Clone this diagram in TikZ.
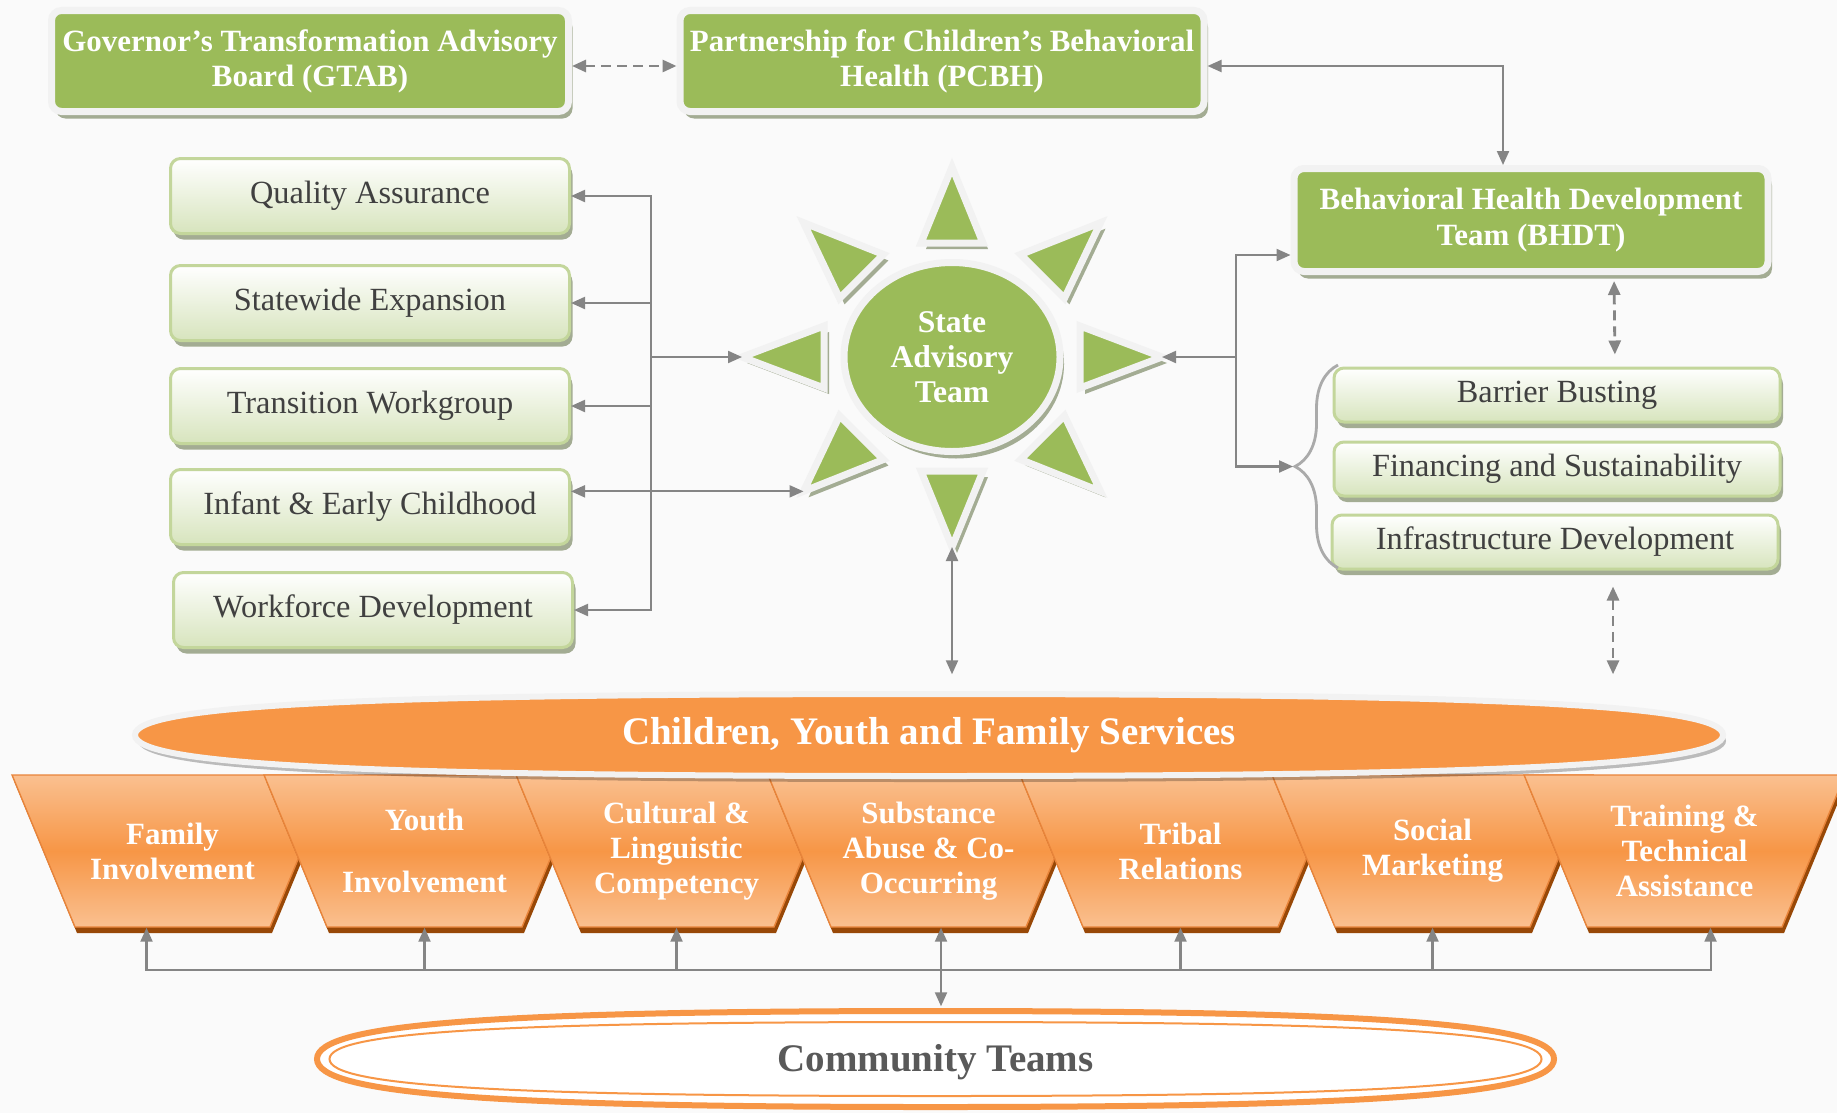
\documentclass[tikz,border=0pt]{standalone}
\usepackage{fontspec}
\setmainfont{Liberation Serif}
\usetikzlibrary{arrows.meta,shapes.geometric,shadows,calc,decorations.pathreplacing}

\definecolor{sgreen}{HTML}{9BBB59}
\definecolor{sedge}{HTML}{F2F2F2}
\definecolor{sshadow}{HTML}{A3AC93}
\definecolor{lgfill}{HTML}{D7E4BD}
\definecolor{lgedge}{HTML}{C3D69B}
\definecolor{sorange}{HTML}{F79646}
\definecolor{olight}{HTML}{FAC090}
\definecolor{oedge}{HTML}{E8843A}
\definecolor{obrown}{HTML}{984807}
\definecolor{linegray}{HTML}{858585}
\definecolor{textgray}{HTML}{404040}
\definecolor{ctgray}{HTML}{595959}

\newcommand{\traptext}[1]{\parbox[c][1.52cm][c]{1.95cm}{\centering #1}}

\tikzset{
	greenbox/.style={draw=sedge, line width=0.07cm, fill=sgreen, rounded corners=0.1cm, inner sep=0pt,
		text=white, align=center, font=\fontsize{8.8}{10}\selectfont\bfseries,
		drop shadow={shadow xshift=0.04cm, shadow yshift=-0.07cm, fill=sshadow, opacity=1}},
	lightbox/.style={draw=lgedge, line width=0.03cm, top color=white, bottom color=lgfill, rounded corners=0.1cm, inner sep=0pt,
		text=textgray, font=\fontsize{9.2}{11}\selectfont,
		drop shadow={shadow xshift=0.03cm, shadow yshift=-0.06cm, fill=sshadow, opacity=1}},
	trapbox/.style={trapezium, trapezium left angle=112.5, trapezium right angle=112.5, inner sep=0pt,
		draw=oedge, line width=0.4pt, top color=olight, bottom color=olight, middle color=sorange,
		text=white, font=\fontsize{8.8}{10}\selectfont\bfseries,
		drop shadow={shadow xshift=0.02cm, shadow yshift=-0.06cm, fill=obrown, opacity=1}},
	sunray/.style={fill=sgreen, draw=sedge, line width=0.07cm, line join=miter,
		drop shadow={shadow xshift=0.05cm, shadow yshift=-0.06cm, fill=sshadow, opacity=1}},
	oval/.style={ellipse, inner sep=0pt, font=\fontsize{11.1}{13}\selectfont\bfseries},
	conn/.style={draw=linegray, line width=0.6pt, ->},
	dconn/.style={conn, line width=0.8pt, dash pattern=on 0.1cm off 0.06cm}
}

\begin{document}
\begin{tikzpicture}[>={Triangle[length=0.14cm, width=0.12cm]}]

	\useasboundingbox (0,0) rectangle (18.37,11.13);
	\fill[black!2] (0,0) rectangle (18.37,11.13);

	\node[greenbox, minimum width=5.17cm, minimum height=1.01cm] (gtab) at ( 3.10, 10.52) {Governor’s Transformation Advisory\\Board (GTAB)};
	\node[greenbox, minimum width=5.24cm, minimum height=1.01cm] (pcbh) at ( 9.42, 10.52) {Partnership for Children’s Behavioral\\Health (PCBH)};
	\node[greenbox, minimum width=4.74cm, minimum height=1.03cm] (bhdt) at (15.31,  8.93) {Behavioral Health Development\\Team (BHDT)};

	\node[lightbox, minimum width=3.99cm, minimum height=0.75cm] (qa)   at ( 3.70,  9.17) {Quality Assurance};
	\node[lightbox, minimum width=3.99cm, minimum height=0.75cm] (swe)  at ( 3.70,  8.10) {Statewide Expansion};
	\node[lightbox, minimum width=3.99cm, minimum height=0.75cm] (tw)   at ( 3.70,  7.07) {Transition Workgroup};
	\node[lightbox, minimum width=3.99cm, minimum height=0.75cm] (iec)  at ( 3.70,  6.06) {Infant \& Early Childhood};
	\node[lightbox, minimum width=3.99cm, minimum height=0.75cm] (wd)   at ( 3.73,  5.03) {Workforce Development};

	\node[lightbox, minimum width=4.46cm, minimum height=0.54cm] (bb)   at (15.57,  7.18) {Barrier Busting};
	\node[lightbox, minimum width=4.46cm, minimum height=0.54cm] (fs)   at (15.57,  6.44) {Financing and Sustainability};
	\node[lightbox, minimum width=4.46cm, minimum height=0.54cm] (id)   at (15.55,  5.71) {Infrastructure Development};

	\node[ellipse, draw=sedge, line width=0.07cm, fill=sgreen, minimum width=2.16cm, minimum height=1.89cm, inner sep=0pt,
		text=white, align=center, font=\fontsize{9}{10}\selectfont\bfseries,
		drop shadow={shadow xshift=0.04cm, shadow yshift=-0.07cm, fill=sshadow, opacity=1}] (sat) at (9.52, 7.56) {State\\Advisory\\Team};
	\foreach \a in {0,45,...,315}
		\filldraw[sunray] ($(sat)+({2.10*cos(\a)},{1.90*sin(\a)})$) coordinate (ray\a)
			-- ($(sat)+({1.28*cos(\a)-0.31*sin(\a)},{1.14*sin(\a)+0.31*cos(\a)})$)
			-- ($(sat)+({1.28*cos(\a)+0.31*sin(\a)},{1.14*sin(\a)-0.31*cos(\a)})$) -- cycle;

	\node[trapbox] (fi)  at ( 1.725, 2.62) {\traptext{Family\\Involvement}};
	\node[trapbox] (yi)  at ( 4.245, 2.62) {\traptext{Youth\\[0.27cm]Involvement}};
	\node[trapbox] (clc) at ( 6.765, 2.62) {\traptext{Cultural \&\\Linguistic\\Competency}};
	\node[trapbox] (sac) at ( 9.285, 2.62) {\traptext{Substance\\Abuse \& Co-\\Occurring}};
	\node[trapbox] (tr)  at (11.805, 2.62) {\traptext{Tribal\\Relations}};
	\node[trapbox] (sm)  at (14.325, 2.62) {\traptext{Social\\Marketing}};
	\node[trapbox] (tta) at (16.845, 2.62) {\traptext{Training \&\\Technical\\Assistance}};

	\filldraw[draw=sedge, line width=0.06cm, fill=sorange, drop shadow={shadow xshift=0.03cm, shadow yshift=-0.06cm, fill=black, opacity=0.25}]
		(1.35,3.78) .. controls +(0,0.30) and +(-5.72,0) .. (9.29,4.19) .. controls +(5.72,0) and +(0,0.30) .. (17.23,3.78)
		.. controls +(0,-0.30) and +(5.72,0) .. (9.29,3.37) .. controls +(-5.72,0) and +(0,-0.30) .. (1.35,3.78) -- cycle;
	\node[oval, text=white, minimum width=15.88cm, minimum height=0.82cm] (cyfs) at (9.29, 3.78) {Children, Youth and Family Services};

	\filldraw[draw=sorange, line width=0.06cm, fill=white]
		(3.17,0.54) .. controls +(0,0.35) and +(-4.45,0) .. (9.355,1.02) .. controls +(4.45,0) and +(0,0.35) .. (15.54,0.54)
		.. controls +(0,-0.35) and +(4.45,0) .. (9.355,0.06) .. controls +(-4.45,0) and +(0,-0.35) .. (3.17,0.54) -- cycle;
	\draw[sorange, line width=0.02cm]
		(3.295,0.54) .. controls +(0,0.27) and +(-4.36,0) .. (9.355,0.91) .. controls +(4.36,0) and +(0,0.27) .. (15.415,0.54)
		.. controls +(0,-0.27) and +(4.36,0) .. (9.355,0.17) .. controls +(-4.36,0) and +(0,-0.27) .. (3.295,0.54) -- cycle;
	\node[oval, text=ctgray, minimum width=12.37cm, minimum height=0.96cm] (ct) at (9.355, 0.51) {Community Teams};

	\draw[linegray!70, line width=0.8pt, decorate, decoration={brace, amplitude=0.43cm}] (13.38, 5.45) -- (13.38, 7.48);

	\coordinate (lbus)  at ( 6.51, 7.56);
	\coordinate (rbus)  at (12.36, 7.56);
	\coordinate (brace) at (12.93, 6.465);
	\coordinate (hub)   at ( 9.41, 1.43);

	\draw[dconn, <->] ([yshift=-0.05cm]gtab.east) -- ([yshift=-0.05cm]pcbh.west);
	\draw[conn, <->] ([yshift=-0.05cm]pcbh.east) -| ([xshift=-0.28cm]bhdt.north);
	\draw[dconn, <->, shorten <=0.06cm, shorten >=0.12cm] ([xshift=0.83cm]bhdt.south) -- ([xshift=0.58cm]bb.north);
	\draw[dconn, <->, shorten <=0.16cm, shorten >=0.19cm] ([xshift=0.58cm]id.south) -- ([xshift=0.58cm]id.south |- cyfs.north);

	\draw[conn] (lbus) |- (qa);
	\draw[conn] (lbus) |- (swe);
	\draw[conn] (lbus) |- (tw);
	\draw[conn] (lbus) |- (wd);
	\draw[conn] (lbus) -- (ray180);
	\draw[conn, <->] (iec.east |- ray225) -- (ray225);

	\draw[conn] (rbus) -- (ray0);
	\draw[conn] (rbus) |- ([yshift=-0.35cm]bhdt.west);
	\draw[conn] (rbus) |- (brace);

	\draw[conn, <->, shorten >=0.19cm] (ray270) -- (ray270 |- cyfs.north);

	\draw[conn] (hub) -| ([xshift=-0.26cm]fi.south);
	\draw[conn] (hub) -| ([xshift=0.26cm]tta.south);
	\foreach \t in {yi, clc, tr, sm}
		\draw[conn] (hub -| \t.south) -- (\t.south);
	\draw[conn, <->, shorten >=0.07cm] (hub |- sac.south) -- (hub |- ct.north);

\end{tikzpicture}
\end{document}
